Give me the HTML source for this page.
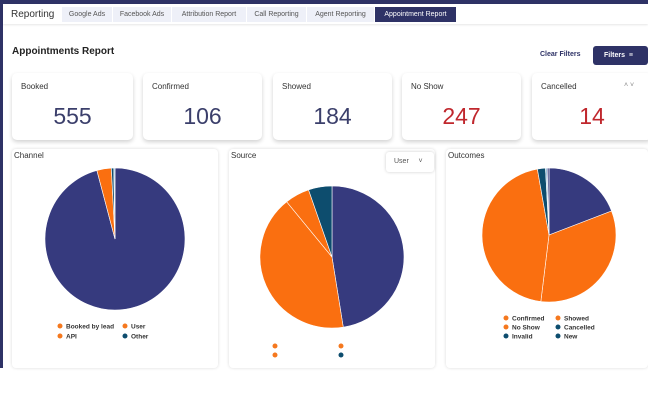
<!DOCTYPE html>
<html><head><style>
body{margin:0;width:648px;height:405px;background:#fff;font-family:"Liberation Sans",sans-serif;overflow:hidden;position:relative}
.a{position:absolute}
.tab{position:absolute;top:7px;height:15px;font-size:7px;color:#555;background:#eef0f8;line-height:15px;text-align:center}
.card{position:absolute;top:73px;height:67px;background:#fff;border-radius:5px;box-shadow:0 2px 4px rgba(0,0,0,.18)}
.card .l{position:absolute;left:9px;top:9px;font-size:8px;color:#333}
.card .n{position:absolute;left:0;right:0;top:30px;text-align:center;font-size:23px;color:#3b3f6b}
.panel{position:absolute;top:149px;height:219px;background:#fff;border-radius:4px;box-shadow:0 0 3px rgba(0,0,0,.15)}
.pt{position:absolute;left:2px;top:2px;font-size:8px;color:#333}
</style></head><body>
<div class="a" style="left:0;top:0;width:648px;height:4px;background:#2e3266"></div>
<div class="a" style="left:0;top:0;width:3px;height:368px;background:#2e3266"></div>
<div class="a" style="left:3px;top:4px;width:645px;height:20px;background:#fff;box-shadow:0 1px 2px rgba(0,0,0,.1)"></div>
<div class="a" style="left:11px;top:9px;font-size:10px;color:#333">Reporting</div>
<div class="tab" style="left:62px;width:50px">Google Ads</div>
<div class="tab" style="left:113px;width:58px">Facebook Ads</div>
<div class="tab" style="left:172px;width:74px">Attribution Report</div>
<div class="tab" style="left:247px;width:59px">Call Reporting</div>
<div class="tab" style="left:307px;width:67px">Agent Reporting</div>
<div class="tab" style="left:375px;width:81px;background:#2e3266;color:#fff">Appointment Report</div>
<div class="a" style="left:12px;top:46px;font-size:10px;font-weight:bold;color:#222">Appointments Report</div>
<div class="a" style="left:540px;top:51px;font-size:7px;font-weight:bold;color:#2e3266">Clear Filters</div>
<div class="a" style="left:593px;top:46px;width:55px;height:19px;background:#2e3266;border-radius:3px;color:#fff;font-size:7px;font-weight:bold;line-height:19px;text-indent:11px">Filters &nbsp;≡</div>
<div class="card" style="left:12px;width:121px"><div class="l">Booked</div><div class="n">555</div></div>
<div class="card" style="left:143px;width:119px"><div class="l">Confirmed</div><div class="n">106</div></div>
<div class="card" style="left:273px;width:119px"><div class="l">Showed</div><div class="n">184</div></div>
<div class="card" style="left:402px;width:119px"><div class="l">No Show</div><div class="n" style="color:#c0272d">247</div></div>
<div class="card" style="left:532px;width:120px"><div class="l">Cancelled</div><div class="a" style="left:92px;top:9px;font-size:7px;color:#888">˄ ˅</div><div class="n" style="color:#c0272d">14</div></div>
<div class="panel" style="left:12px;width:206px"><div class="pt">Channel</div></div>
<div class="panel" style="left:229px;width:206px"><div class="pt">Source</div>
<div class="a" style="left:157px;top:3px;width:48px;height:20px;border-radius:3px;box-shadow:0 0 3px rgba(0,0,0,.2);font-size:7px;color:#555;line-height:20px;text-indent:8px">User &nbsp;&nbsp;&nbsp;&nbsp;˅</div></div>
<div class="panel" style="left:446px;width:202px"><div class="pt">Outcomes</div></div>
<svg class="a" style="left:0;top:0" width="648" height="405">
<g id="pies"></g>
<g font-size="6.5" font-weight="bold" fill="#333" font-family="Liberation Sans,sans-serif">
<circle cx="60" cy="326" r="2.5" fill="#f5781e"/><text x="66" y="328.5">Booked by lead</text>
<circle cx="125" cy="326" r="2.5" fill="#f5781e"/><text x="131" y="328.5">User</text>
<circle cx="60" cy="336" r="2.5" fill="#f5781e"/><text x="66" y="338.5">API</text>
<circle cx="125" cy="336" r="2.5" fill="#0d4d6e"/><text x="131" y="338.5">Other</text>
<circle cx="275" cy="346" r="2.5" fill="#f5781e"/><circle cx="275" cy="355" r="2.5" fill="#f5781e"/>
<circle cx="341" cy="346" r="2.5" fill="#f5781e"/><circle cx="341" cy="355" r="2.5" fill="#0d4d6e"/>
<circle cx="506" cy="318" r="2.5" fill="#f5781e"/><text x="512" y="320.5">Confirmed</text>
<circle cx="558" cy="318" r="2.5" fill="#f5781e"/><text x="564" y="320.5">Showed</text>
<circle cx="506" cy="327" r="2.5" fill="#f5781e"/><text x="512" y="329.5">No Show</text>
<circle cx="558" cy="327" r="2.5" fill="#0d4d6e"/><text x="564" y="329.5">Cancelled</text>
<circle cx="506" cy="336" r="2.5" fill="#0d4d6e"/><text x="512" y="338.5">Invalid</text>
<circle cx="558" cy="336" r="2.5" fill="#0d4d6e"/><text x="564" y="338.5">New</text>
</g>
</svg>
<script>
function pie(cx,cy,rx,ry,sl){let s='';sl.forEach(([a,b,c])=>{const p=t=>{const r=t*Math.PI/180;return [cx+rx*Math.sin(r),cy-ry*Math.cos(r)]};const[x1,y1]=p(a),[x2,y2]=p(b);s+=`<path d="M${cx},${cy}L${x1},${y1}A${rx},${ry} 0 ${b-a>180?1:0} 1 ${x2},${y2}Z" fill="${c}" stroke="#fff" stroke-width="0.6"/>`});return s}
const N='#363a7e',O='#fa6f10',T='#0d4d6e',L='#9fc5e0';
document.getElementById('pies').innerHTML=
pie(115,239,70,71,[[0,345,N],[345,357,O],[357,359,T],[359,360,L]])+
pie(332,257,72,71,[[0,171,N],[171,321,O],[321,341,O],[341,360,T]])+
pie(549,235,67,67,[[0,69,N],[69,187,O],[187,350,O],[350,357,T],[357,358.5,L],[358.5,360,N]]);
</script>
</body></html>
